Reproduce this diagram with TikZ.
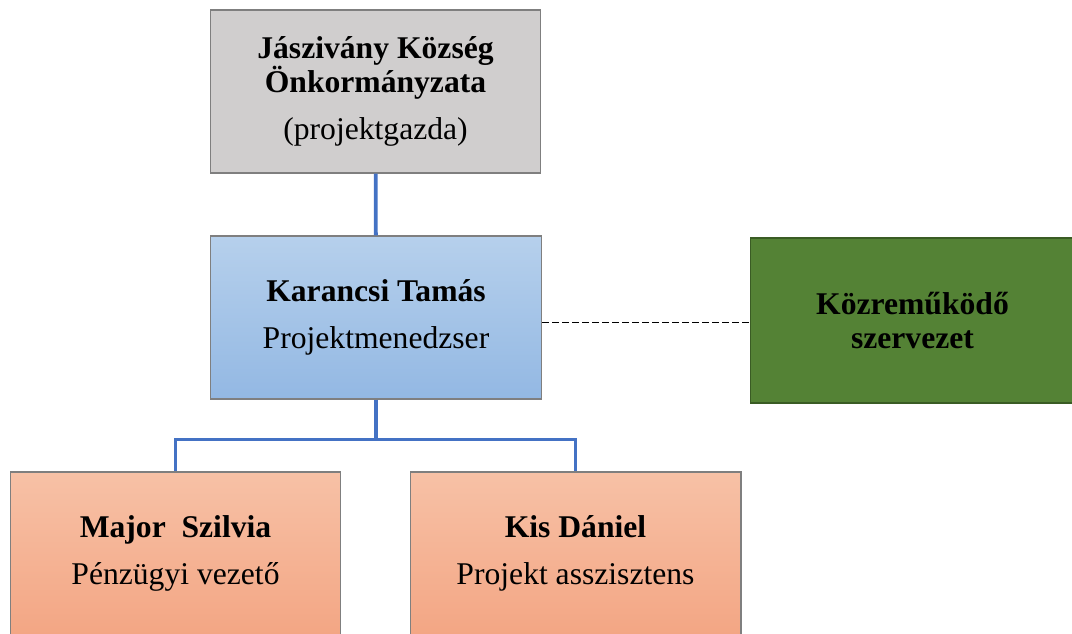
\documentclass[tikz,border=0pt]{standalone}
\usepackage{fontspec}
\setmainfont{Liberation Serif}
\usetikzlibrary{positioning}
\definecolor{ownergrey}{HTML}{D0CECE}
\definecolor{edgegrey}{HTML}{7F7F7F}
\definecolor{pmtop}{HTML}{B6D0EC}
\definecolor{pmbottom}{HTML}{93B8E3}
\definecolor{partgreen}{HTML}{548235}
\definecolor{partedge}{HTML}{3A5C24}
\definecolor{stafftop}{HTML}{F7C1A6}
\definecolor{staffbottom}{HTML}{F3A684}
\definecolor{linkblue}{HTML}{4472C4}

\begin{document}
\begin{tikzpicture}[x=0.02cm,y=-0.02cm,
  box/.style={draw=edgegrey, line width=0.6pt, minimum width=6.62cm, minimum height=3.26cm,
    align=center, inner sep=0pt, font=\fontsize{18}{19}\selectfont},
  link/.style={draw=linkblue, line width=2.2pt}]
\useasboundingbox (0,0) rectangle (1072,634);

\node[box, fill=ownergrey] (owner) at (375.5,91.5)
  {\textbf{Jászivány Község}\\\textbf{Önkormányzata}\\[8pt](projektgazda)};
\node[box, top color=pmtop, bottom color=pmbottom] (pm) at (376,317.5)
  {\textbf{Karancsi Tamás}\\[8pt]Projektmenedzser};
\node[box, fill=partgreen, draw=partedge, minimum width=6.5cm, minimum height=3.3cm] (partner) at (912.5,320.5)
  {\textbf{Közreműködő}\\\textbf{szervezet}};
\node[box, top color=stafftop, bottom color=staffbottom] (finance) at (175.5,553.5)
  {\textbf{Major\ \ Szilvia}\\[8pt]Pénzügyi vezető};
\node[box, top color=stafftop, bottom color=staffbottom] (assistant) at (575.5,553.5)
  {\textbf{Kis Dániel}\\[8pt]Projekt asszisztens};

\draw[link] (owner) -- (pm);
\draw[link] (pm.south) -- ++(0,40) -| (finance.north);
\draw[link] (pm.south) -- ++(0,40) -| (assistant.north);

\draw[line width=1.1pt, dash pattern=on 4pt off 1.7pt] ([yshift=-0.1cm]pm.east) -- ([yshift=-0.1cm]pm.east -| partner.west);
\end{tikzpicture}
\end{document}
